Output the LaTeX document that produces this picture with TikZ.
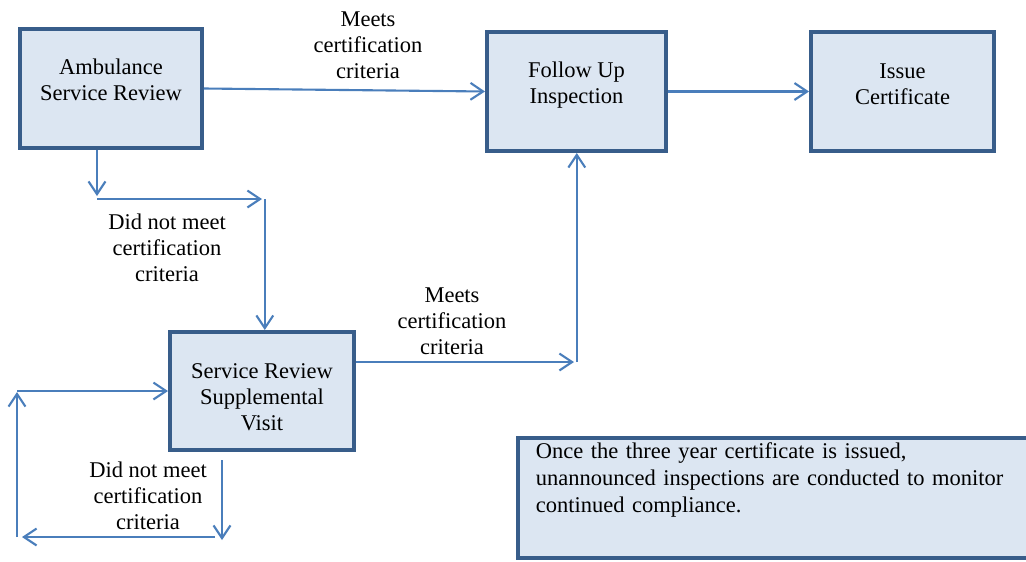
\documentclass[tikz,border=0pt]{standalone}
\usepackage{fontspec}
\setmainfont{Liberation Serif}
\usetikzlibrary{arrows.meta}
\definecolor{boxfill}{RGB}{220,230,242}
\definecolor{boxline}{RGB}{56,93,138}
\definecolor{flowblue}{RGB}{74,126,187}
\tikzset{
  stagebox/.style={draw=boxline,line width=2.8pt,fill=boxfill,align=center,
    minimum width=4.55cm,minimum height=2.975cm,font=\fontsize{16}{18.4}\selectfont},
  flow/.style={draw=flowblue,line width=1.5pt,-{Straight Barb[length=9pt,width=12pt]}},
  flowtext/.style={align=center,font=\fontsize{16}{18.4}\selectfont}
}
\begin{document}
\begin{tikzpicture}[x=0.025cm,y=-0.025cm]
\useasboundingbox (0,0) rectangle (1026,561);

% stages
\node[stagebox,text depth=13pt] (review) at (111,88.5) {Ambulance\\Service Review};
\node[stagebox,text depth=13pt,minimum width=4.475cm] (followup) at (576.5,91.5) {Follow Up\\Inspection};
\node[stagebox,text depth=11pt,minimum width=4.575cm] (issue) at (902.5,91.5) {Issue\\Certificate};
\node[stagebox,text height=56pt,minimum width=4.6cm,minimum height=2.95cm] (visit) at (262,391) {Service Review\\Supplemental\\Visit};
\node[draw=boxline,line width=2.8pt,fill=boxfill,align=left,text width=12.1cm,inner xsep=0.45cm,
  minimum height=2.9cm,text depth=68pt,font=\fontsize{16}{19.5}\selectfont] (note) at (778,498)
  {Once the three year certificate is issued,\\unannounced inspections are conducted to monitor\\continued compliance.};

% labels
\node[flowtext] (meets1) at (368,45) {Meets\\certification\\criteria};
\node[flowtext] (fail1) at (167,248) {Did not meet\\certification\\criteria};
\node[flowtext] (meets2) at (452,321) {Meets\\certification\\criteria};
\node[flowtext] (fail2) at (148,496) {Did not meet\\certification\\criteria};

% corner points
\coordinate (down1) at (97,196);
\coordinate (turn1) at (97,199);
\coordinate (turn2) at (262,199);
\coordinate (turn3) at (574,362);
\coordinate (loop0) at (222,460);
\coordinate (loop1) at (222,540);
\coordinate (loop2) at (215,537);
\coordinate (loop3) at (22,537);
\coordinate (loop4) at (17,537);
\coordinate (loop5) at (17,392);
\coordinate (loop6) at (17,391);

% connectors
\draw[flow] (review.east) -- (followup.west);
\draw[flow] (followup.east) -- (issue.west);
\draw[flow] (down1 |- review.south) -- (down1);
\draw[flow] (turn1) -- (turn2);
\draw[flow] ([xshift=2]turn2) -- ([xshift=2]turn2 |- visit.north);
\draw[flow] (visit.east |- turn3) -- (turn3);
\draw[flow] ([xshift=2]turn3) -- ([xshift=2]turn3 |- followup.south);
\draw[flow] (loop0) -- (loop1);
\draw[flow] (loop2) -- (loop3);
\draw[flow] (loop4) -- (loop5);
\draw[flow] (loop6) -- (visit.west |- loop6);
\end{tikzpicture}
\end{document}
